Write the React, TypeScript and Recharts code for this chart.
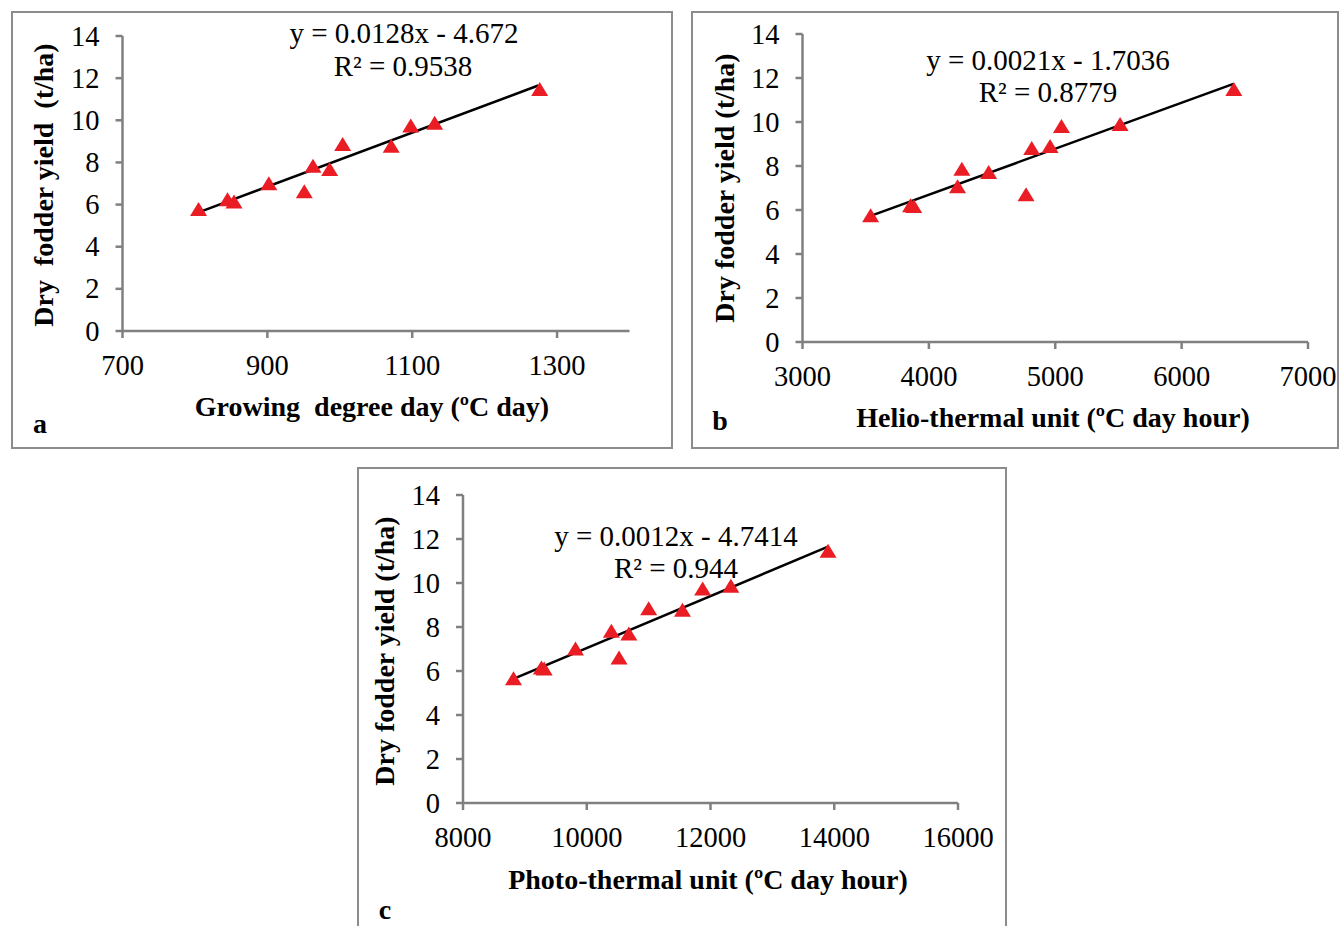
import React from 'react'
import { ScatterChart, Scatter, XAxis, YAxis, ReferenceLine } from 'recharts'

// Panel a: growing degree day vs dry fodder yield
const gddX = [805, 845, 854, 902, 951, 963, 986, 1004, 1071, 1098, 1131, 1276]
const gddYield = [5.74, 6.21, 6.1, 6.97, 6.58, 7.8, 7.64, 8.83, 8.75, 9.7, 9.83, 11.44]
const gddTrendX = [805, 1274]
const gddTrendY = [5.63, 11.65]
const gddTicks = [700, 900, 1100, 1300]

// Panel b: helio-thermal unit
const htuX = [3539, 3855, 3880, 4227, 4261, 4473, 4769, 4814, 4959, 5049, 5513, 6413]
const htuYield = [5.72, 6.17, 6.14, 7.03, 7.83, 7.68, 6.67, 8.77, 8.86, 9.77, 9.86, 11.46]
const htuTrendX = [3534, 6410]
const htuTrendY = [5.72, 11.73]
const htuTicks = [3000, 4000, 5000, 6000, 7000]

// Panel c: photo-thermal unit
const ptuX = [8816, 9267, 9312, 9818, 10398, 10522, 10680, 11001, 11547, 11873, 12329, 13900]
const ptuYield = [5.63, 6.11, 6.07, 6.98, 7.78, 6.57, 7.66, 8.81, 8.74, 9.71, 9.83, 11.42]
const ptuTrendX = [8805, 13900]
const ptuTrendY = [5.63, 11.65]
const ptuTicks = [8000, 10000, 12000, 14000, 16000]

const yTicks = [0, 2, 4, 6, 8, 10, 12, 14]

const FONT = 'Liberation Serif, Times New Roman, serif'
const AXIS_GREY = '#808080'
const MARKER_RED = '#ea1c24'

// red triangle marker, centred on the point the scatter gives us
const Triangle = (props: any) => {
  const { cx, cy } = props
  if (cx == null || cy == null) return <g />
  return <polygon points={`${cx},${cy - 8} ${cx + 8.5},${cy + 6} ${cx - 8.5},${cy + 6}`} fill={MARKER_RED} />
}

const tickText: React.CSSProperties = { fontFamily: FONT, fontSize: 28.5, fill: '#000' }

const XTick = (props: any) => {
  const { x, y, payload } = props
  return (
    <text x={x} y={y} dy={29} textAnchor="middle" style={tickText}>
      {payload.value}
    </text>
  )
}

const YTick = (props: any) => {
  const { x, y, payload } = props
  return (
    <text x={x} y={y} dy={9.5} textAnchor="end" style={tickText}>
      {payload.value}
    </text>
  )
}

type PanelProps = {
  xs: number[]
  ys: number[]
  trendX: number[]
  trendY: number[]
  xTicks: number[]
  xDomain: [number, number]
  left: number
  top: number
  width: number
  height: number
  margin: { top: number; right: number; bottom: number; left: number }
}

function Panel({ xs, ys, trendX, trendY, xTicks, xDomain, left, top, width, height, margin }: PanelProps) {
  const points = xs.map((x, i) => ({ x, y: ys[i] }))
  const segment = trendX.map((x, i) => ({ x, y: trendY[i] }))
  const axisLine = { stroke: AXIS_GREY, strokeWidth: 2.5 }

  return (
    <div style={{ position: 'absolute', left, top }}>
      <ScatterChart width={width} height={height} margin={margin}>
        <XAxis
          type="number"
          dataKey="x"
          domain={xDomain}
          ticks={xTicks}
          allowDataOverflow
          height={80}
          tick={<XTick />}
          axisLine={axisLine}
          tickLine={axisLine}
          tickSize={7}
          tickMargin={8}
        />
        <YAxis
          type="number"
          dataKey="y"
          domain={[0, 14]}
          ticks={yTicks}
          width={80}
          tick={<YTick />}
          axisLine={axisLine}
          tickLine={axisLine}
          tickSize={7}
          tickMargin={16}
        />
        <Scatter data={points} shape={<Triangle />} isAnimationActive={false} />
        <ReferenceLine segment={segment} stroke="#000" strokeWidth={2.5} />
      </ScatterChart>
    </div>
  )
}

function Txt({ x, y, children, bold, rotate, size = 28 }: any) {
  return (
    <div
      style={{
        position: 'absolute',
        left: x,
        top: y,
        transform: `translate(-50%, -50%)${rotate ? ' rotate(-90deg)' : ''}`,
        whiteSpace: 'pre',
        fontFamily: FONT,
        fontWeight: bold ? 'bold' : 'normal',
        fontSize: size,
        lineHeight: 1,
        color: '#000',
      }}
    >
      {children}
    </div>
  )
}

const boxStyle = (left: number, top: number, width: number, height: number): React.CSSProperties => ({
  position: 'absolute',
  left,
  top,
  width,
  height,
  border: '2px solid #8c8c8c',
  boxSizing: 'border-box',
})

export default function App() {
  return (
    <div style={{ position: 'absolute', left: 0, top: 0, width: 1341, height: 926, background: '#fff', overflow: 'hidden', fontFamily: FONT }}>
      <div style={boxStyle(11, 11, 662, 438)} />
      <div style={boxStyle(691, 11, 648, 438)} />
      <div style={boxStyle(357, 467, 650, 470)} />

      <Panel
        xs={gddX}
        ys={gddYield}
        trendX={gddTrendX}
        trendY={gddTrendY}
        xTicks={gddTicks}
        xDomain={[700, 1400]}
        left={12}
        top={12}
        width={660}
        height={436}
        margin={{ top: 24, right: 42.5, bottom: 37, left: 30.5 }}
      />
      <Panel
        xs={htuX}
        ys={htuYield}
        trendX={htuTrendX}
        trendY={htuTrendY}
        xTicks={htuTicks}
        xDomain={[3000, 7000]}
        left={692}
        top={12}
        width={646}
        height={436}
        margin={{ top: 22, right: 30, bottom: 26, left: 30.5 }}
      />
      <Panel
        xs={ptuX}
        ys={ptuYield}
        trendX={ptuTrendX}
        trendY={ptuTrendY}
        xTicks={ptuTicks}
        xDomain={[8000, 16000]}
        left={358}
        top={468}
        width={648}
        height={458}
        margin={{ top: 27, right: 48, bottom: 43, left: 25 }}
      />

      {/* panel a text */}
      <Txt x={404} y={33} size={29}>y = 0.0128x - 4.672</Txt>
      <Txt x={403} y={66} size={29}>R² = 0.9538</Txt>
      <Txt x={44} y={185} bold rotate>Dry  fodder yield  (t/ha)</Txt>
      <Txt x={372} y={407} bold>Growing  degree day (ºC day)</Txt>
      <Txt x={40} y={424} bold>a</Txt>

      {/* panel b text */}
      <Txt x={1048} y={60} size={29}>y = 0.0021x - 1.7036</Txt>
      <Txt x={1048} y={92} size={29}>R² = 0.8779</Txt>
      <Txt x={725} y={188} bold rotate>Dry fodder yield (t/ha)</Txt>
      <Txt x={1053} y={418} bold>Helio-thermal unit (ºC day hour)</Txt>
      <Txt x={720} y={421} bold>b</Txt>

      {/* panel c text */}
      <Txt x={676} y={536} size={29}>y = 0.0012x - 4.7414</Txt>
      <Txt x={676} y={568} size={29}>R² = 0.944</Txt>
      <Txt x={385} y={651} bold rotate>Dry fodder yield (t/ha)</Txt>
      <Txt x={708} y={880} bold>Photo-thermal unit (ºC day hour)</Txt>
      <Txt x={385} y={910} bold>c</Txt>
    </div>
  )
}
